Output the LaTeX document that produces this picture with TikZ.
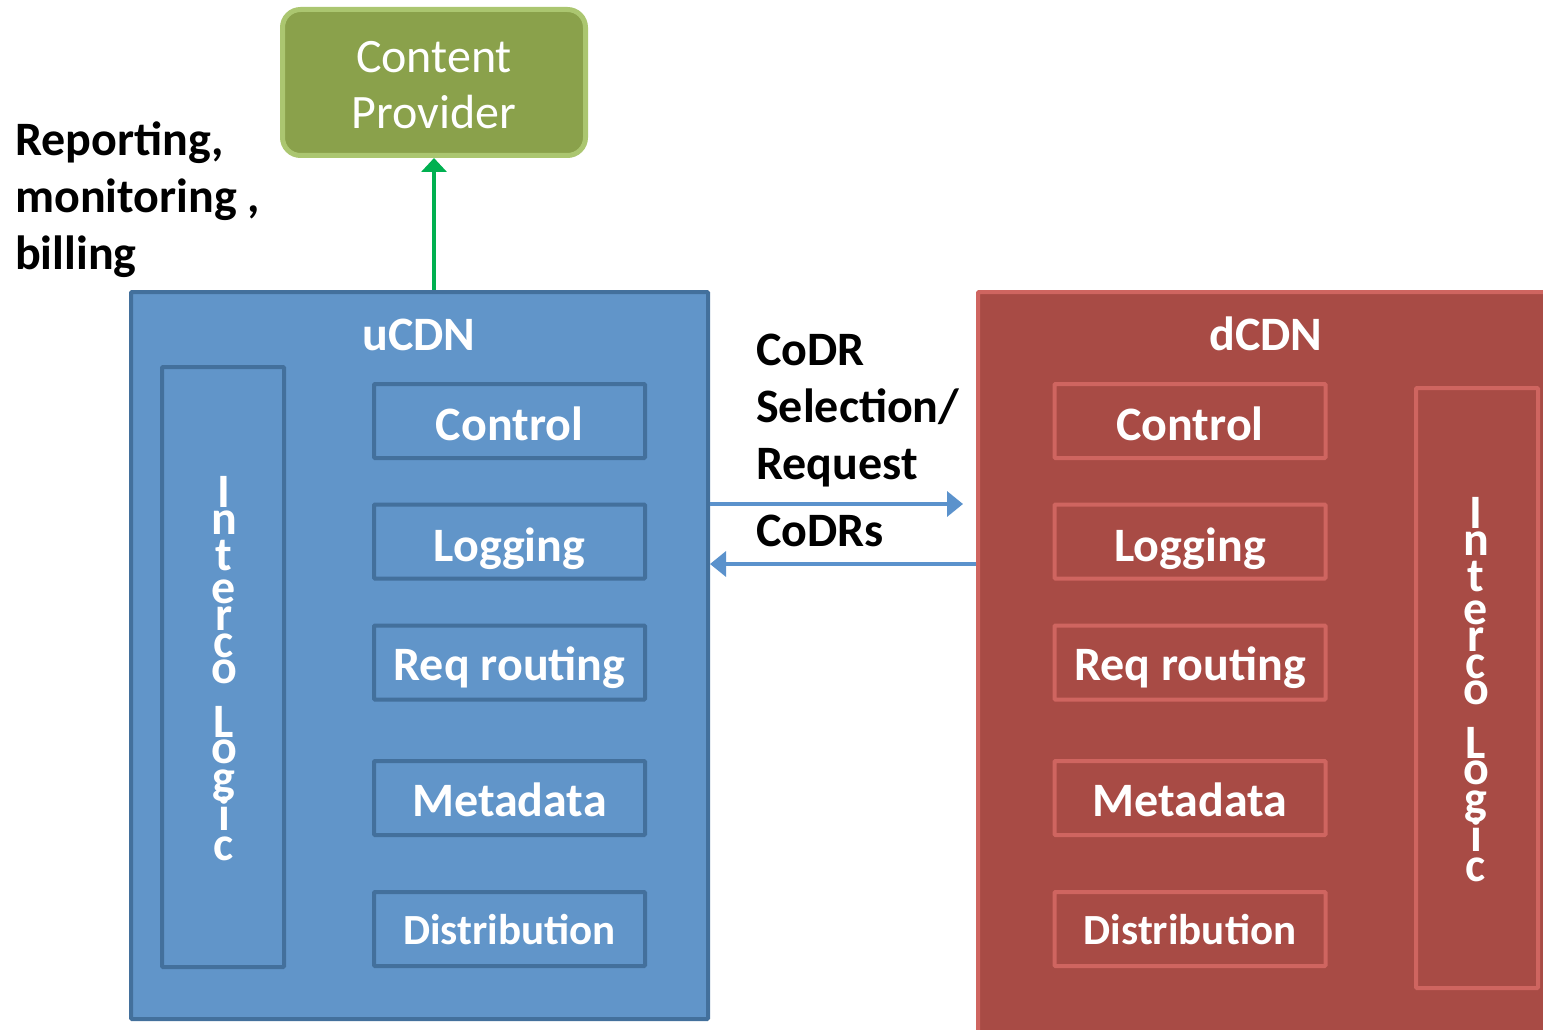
\documentclass[tikz,border=0pt]{standalone}
\usepackage{fontspec}
\setmainfont{Carlito}
\usetikzlibrary{arrows.meta}
\definecolor{cpfill}{RGB}{138,161,75}
\definecolor{cpline}{RGB}{171,198,112}
\definecolor{ufill}{RGB}{97,149,201}
\definecolor{uline}{RGB}{67,112,156}
\definecolor{dfill}{RGB}{168,75,69}
\definecolor{dline}{RGB}{207,101,96}
\definecolor{arrblue}{RGB}{91,146,204}
\definecolor{arrgreen}{RGB}{0,176,80}
\newcommand\stkl[2]{\hbox to 40pt{\hss\smash{#1}\hss}\kern#2pt}
\newcommand\stklast[1]{\hbox to 40pt{\hss\smash{#1}\hss}}
\newcommand\intercotext{\vbox{\offinterlineskip
  \stkl{I}{27}\stkl{n}{36}\stkl{t}{33}\stkl{e}{27}\stkl{r}{27}\stkl{c}{26}\stkl{o}{54}%
  \stkl{L}{26}\stkl{o}{30}\stkl{g}{37}\stkl{i}{30}\stklast{c}}}
\begin{document}
\begin{tikzpicture}[x=1pt,y=-1pt,
  bigfont/.style={font=\fontsize{48}{57}\selectfont\bfseries},
  blk/.style={line width=4pt, minimum width=271pt, minimum height=74pt, inner sep=0pt,
    text=white, bigfont, text height=39pt, text depth=0pt, rounded corners=1pt},
  ublk/.style={blk, draw=uline, fill=ufill},
  dblk/.style={blk, draw=dline, fill=dfill},
  distfont/.style={font=\fontsize{43}{50}\selectfont\bfseries, text height=30pt},
  outerbox/.style={line width=4pt, inner sep=0pt, rounded corners=1pt},
  interco/.style={line width=4pt, inner sep=0pt, minimum width=122pt, minimum height=600pt, rounded corners=1pt},
  stacktext/.style={anchor=north, inner sep=0pt, text=white, bigfont},
  lbl/.style={bigfont, text=black, inner sep=0pt, align=left},
  barrow/.style={draw=arrblue, line width=3.5pt, -{Triangle[length=16pt,width=25pt]}},
  garrow/.style={draw=arrgreen, line width=3.5pt, -{Triangle[length=14pt,width=25pt]}}
]
\useasboundingbox (0,0) rectangle (1543,1030);

% Content provider
\node[draw=cpline, fill=cpfill, line width=5pt, rounded corners=18pt,
  minimum width=303pt, minimum height=146pt, inner sep=0pt, align=center,
  text=white, font=\fontsize{48}{56}\selectfont] (cp) at (434,82.5)
  {\rule{0pt}{52pt}Content\\Provider\rule[-15pt]{0pt}{15pt}};

% reporting label
\node[lbl, anchor=north west] (rep) at (15,115) {\rule{0pt}{40pt}Reporting,\\monitoring ,\\billing};

% uCDN
\node[outerbox, draw=uline, fill=ufill, minimum width=577pt, minimum height=727pt] (ucdn) at (419.5,655.5) {};
\node[bigfont, text=white, anchor=base, inner sep=0pt] (utitle) at (419,350) {uCDN};
\node[interco, draw=uline, fill=ufill] (uint) at (223,667) {};
\node[stacktext] (uinttext) at (224,507) {\intercotext};
\node[ublk] (uctrl) at (509.5,421) {Control};
\node[ublk] (ulog) at (509.5,541.5) {Logging};
\node[ublk, text height=35pt] (ureq) at (509.5,662.5) {Req routing};
\node[ublk, text height=37pt] (umeta) at (509.5,798) {Metadata};
\node[ublk, distfont] (udist) at (509.5,929) {Distribution};

% dCDN
\node[outerbox, draw=dline, fill=dfill, minimum width=640pt, minimum height=820pt] (dcdn) at (1298,702) {};
\node[bigfont, text=white, anchor=base, inner sep=0pt] (dtitle) at (1266,350) {dCDN};
\node[interco, draw=dline, fill=dfill] (dint) at (1477,688) {};
\node[stacktext] (dinttext) at (1476,528) {\intercotext};
\node[dblk] (dctrl) at (1190,421) {Control};
\node[dblk] (dlog) at (1190,541.5) {Logging};
\node[dblk, text height=35pt] (dreq) at (1190,662.5) {Req routing};
\node[dblk, text height=37pt] (dmeta) at (1190,798) {Metadata};
\node[dblk, distfont] (ddist) at (1190,929) {Distribution};

% labels between
\node[lbl, anchor=north west] (codr) at (756,325) {\rule{0pt}{40pt}CoDR\\Selection/\\Request};
\node[lbl, anchor=base west] (codrs) at (756,546) {CoDRs};

% arrows
\coordinate (a1end) at (963,504);
\coordinate (a2y) at (0,564);
\draw[barrow] (ucdn.east |- a1end) -- (a1end);
\draw[barrow] (dcdn.west |- a2y) -- (ucdn.east |- a2y);
\draw[garrow] (cp.south |- ucdn.north) -- (cp.south);
\end{tikzpicture}
\end{document}
